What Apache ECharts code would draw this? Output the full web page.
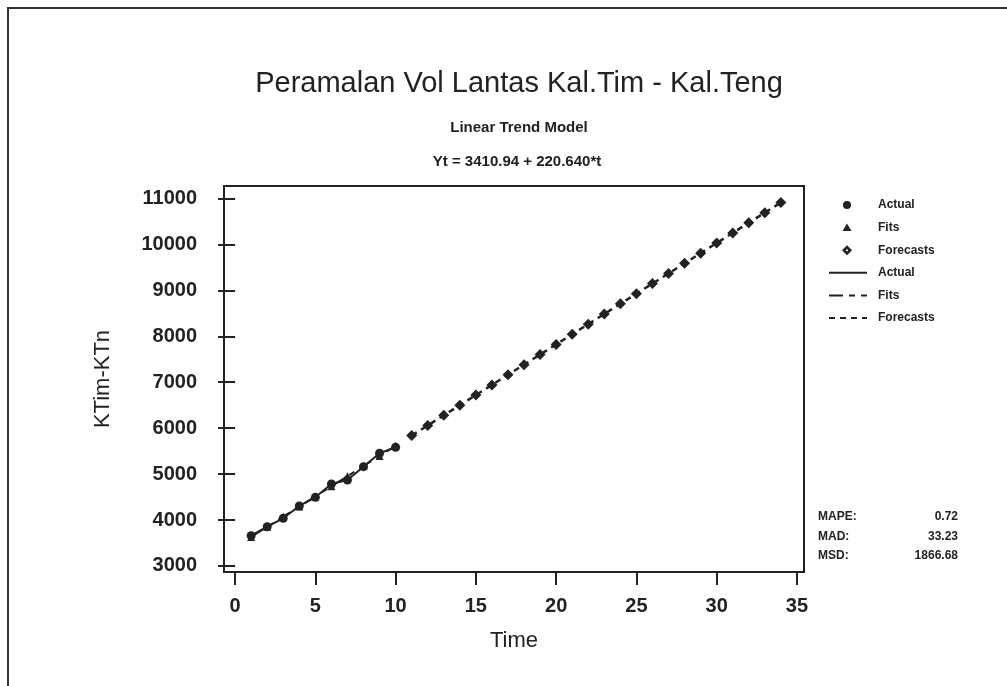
<!DOCTYPE html>
<html>
<head>
<meta charset="utf-8">
<script src="https://cdn.jsdelivr.net/npm/echarts@6/dist/echarts.min.js"></script>
<style>
  html, body { margin: 0; padding: 0; background: #fff; }
  #chart { width: 1007px; height: 686px; }
</style>
</head>
<body>
<div id="chart"></div>
<script>
// values
const timeActual = [1, 2, 3, 4, 5, 6, 7, 8, 9, 10];
const actualVals = [3660, 3855, 4038, 4306, 4495, 4785, 4872, 5162, 5453, 5584];
const fitVals = [3631.6, 3852.2, 4072.9, 4293.5, 4514.1, 4734.8, 4955.4, 5176.1, 5396.7, 5617.3];
const timeForecast = [11, 12, 13, 14, 15, 16, 17, 18, 19, 20, 21, 22,
  23, 24, 25, 26, 27, 28, 29, 30, 31, 32, 33, 34];
const forecastVals = [5838.0, 6058.6, 6279.3, 6499.9, 6720.5, 6941.2, 7161.8, 7382.5,
  7603.1, 7823.7, 8044.4, 8265.0, 8485.7, 8706.3, 8926.9, 9147.6, 9368.2, 9588.9,
  9809.5, 10030.1, 10250.8, 10471.4, 10692.1, 10912.7];
const xTicks = [0, 5, 10, 15, 20, 25, 30, 35];
const yTicks = [3000, 4000, 5000, 6000, 7000, 8000, 9000, 10000, 11000];
const stats = [['MAPE:', '0.72'], ['MAD:', '33.23'], ['MSD:', '1866.68']];

const ink = '#222';
const font = 'Liberation Sans, Arial, sans-serif';

const pairs = (xs, ys) => xs.map((x, i) => [x, ys[i]]);

// legend + stats block drawn by hand (Minitab style, duplicate names)
const legendRows = [
  { kind: 'circle', label: 'Actual' },
  { kind: 'triangle', label: 'Fits' },
  { kind: 'diamond', label: 'Forecasts' },
  { kind: 'solid', label: 'Actual' },
  { kind: 'longdash', label: 'Fits' },
  { kind: 'shortdash', label: 'Forecasts' }
];
const graphics = [];
legendRows.forEach((r, i) => {
  const y = 205 + i * 22.6;
  if (r.kind === 'circle') {
    graphics.push({ type: 'circle', shape: { cx: 847, cy: y, r: 4 }, style: { fill: ink } });
  } else if (r.kind === 'triangle') {
    graphics.push({ type: 'polygon', shape: { points: [[847, y - 4], [851.5, y + 3.5], [842.5, y + 3.5]] }, style: { fill: ink } });
  } else if (r.kind === 'diamond') {
    graphics.push({ type: 'polygon', shape: { points: [[847, y - 5], [852, y], [847, y + 5], [842, y]] }, style: { fill: ink } });
    graphics.push({ type: 'circle', shape: { cx: 847, cy: y, r: 1 }, style: { fill: '#fff' } });
  } else {
    const dash = r.kind === 'solid' ? null : (r.kind === 'longdash' ? [14, 6, 6, 6] : [6, 5]);
    graphics.push({ type: 'line', shape: { x1: 829, y1: y, x2: 867, y2: y }, style: { stroke: ink, lineWidth: 2, lineDash: dash } });
  }
  graphics.push({ type: 'text', x: 878, y: y, style: { text: r.label, fill: ink, font: 'bold 12px ' + font, textVerticalAlign: 'middle' } });
});
stats.forEach((s, i) => {
  const y = 517 + i * 19.5;
  graphics.push({ type: 'text', x: 818, y: y, style: { text: s[0], fill: ink, font: 'bold 12px ' + font, textVerticalAlign: 'middle' } });
  graphics.push({ type: 'text', x: 958, y: y, style: { text: s[1], fill: ink, font: 'bold 12px ' + font, textAlign: 'right', textVerticalAlign: 'middle' } });
});
// outer page frame (top and left edges)
graphics.push({ type: 'polyline', shape: { points: [[8, 686], [8, 8], [1007, 8]] }, style: { stroke: '#333', lineWidth: 2, fill: null } });

const chart = echarts.init(document.getElementById('chart'));
chart.setOption({
  animation: false,
  backgroundColor: '#fff',
  title: [
    { text: 'Peramalan Vol Lantas Kal.Tim - Kal.Teng', left: 514, top: 64, textAlign: 'center',
      textStyle: { fontFamily: font, fontSize: 29, fontWeight: 'normal', color: ink } },
    { text: 'Linear Trend Model', left: 514, top: 115, textAlign: 'center',
      textStyle: { fontFamily: font, fontSize: 15, fontWeight: 'bold', color: ink } },
    { text: 'Yt = 3410.94 + 220.640*t', left: 512, top: 149, textAlign: 'center',
      textStyle: { fontFamily: font, fontSize: 15, fontWeight: 'bold', color: ink } }
  ],
  grid: { left: 224, right: 203, top: 186, bottom: 114, show: true, borderColor: ink, borderWidth: 2, containLabel: false },
  xAxis: {
    type: 'value', min: -0.69, max: 35.44,
    name: 'Time', nameLocation: 'middle', nameGap: 58,
    nameTextStyle: { fontFamily: font, fontSize: 22, color: ink },
    axisLine: { show: false },
    axisTick: { show: true, inside: false, length: 13, lineStyle: { color: ink, width: 2 }, customValues: xTicks },
    axisLabel: { margin: 24, fontFamily: font, fontSize: 20, fontWeight: 'bold', color: ink, customValues: xTicks },
    splitLine: { show: false }
  },
  yAxis: {
    type: 'value', min: 2869, max: 11272,
    name: 'KTim-KTn', nameLocation: 'middle', nameGap: 110, nameRotate: 90,
    nameTextStyle: { fontFamily: font, fontSize: 22, color: ink },
    axisLine: { show: false },
    axisTick: { show: true, inside: false, length: 17, lineStyle: { color: ink, width: 2 }, customValues: yTicks },
    axisLabel: { margin: 27, fontFamily: font, fontSize: 20, fontWeight: 'bold', color: ink, customValues: yTicks,
      formatter: v => String(v) },
    splitLine: { show: false }
  },
  series: [
    { name: 'Actual line', type: 'line', data: pairs(timeActual, actualVals), symbol: 'circle', symbolSize: 9,
      itemStyle: { color: ink }, lineStyle: { color: ink, width: 2 } },
    { name: 'Fits', type: 'line', data: pairs(timeActual, fitVals), symbol: 'triangle', symbolSize: 8,
      itemStyle: { color: ink }, lineStyle: { color: ink, width: 2, type: [14, 6, 6, 6] } },
    { name: 'Forecasts', type: 'line', data: pairs(timeForecast, forecastVals), symbol: 'diamond', symbolSize: 11,
      itemStyle: { color: ink }, lineStyle: { color: ink, width: 2.5, type: [6, 5] } }
  ],
  graphic: graphics
});
</script>
</body>
</html>
